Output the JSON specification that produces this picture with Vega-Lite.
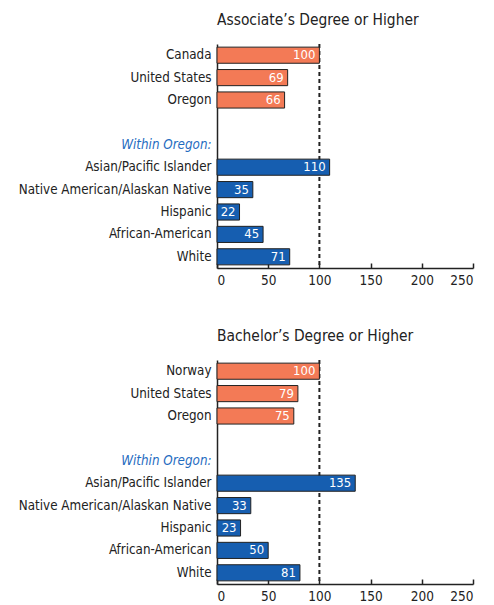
{
  "$schema": "https://vega.github.io/schema/vega-lite/v6.json",
  "padding": {"left": 5, "top": 12, "right": 5, "bottom": 5},
  "background": "white",
  "config": {
    "font": "'DejaVu Sans Condensed', 'Liberation Sans', sans-serif",
    "view": {"stroke": null},
    "axis": {"grid": false, "labelColor": "#222", "domainColor": "#222", "tickColor": "#222", "labelLimit": 400}
  },
  "datasets": {
    "assoc": [
      {"cat": "Canada", "value": 100, "group": "ref"},
      {"cat": "United States", "value": 69, "group": "ref"},
      {"cat": "Oregon", "value": 66, "group": "ref"},
      {"cat": "Asian/Pacific Islander", "value": 110, "group": "or"},
      {"cat": "Native American/Alaskan Native", "value": 35, "group": "or"},
      {"cat": "Hispanic", "value": 22, "group": "or"},
      {"cat": "African-American", "value": 45, "group": "or"},
      {"cat": "White", "value": 71, "group": "or"}
    ],
    "bach": [
      {"cat": "Norway", "value": 100, "group": "ref"},
      {"cat": "United States", "value": 79, "group": "ref"},
      {"cat": "Oregon", "value": 75, "group": "ref"},
      {"cat": "Asian/Pacific Islander", "value": 135, "group": "or"},
      {"cat": "Native American/Alaskan Native", "value": 33, "group": "or"},
      {"cat": "Hispanic", "value": 23, "group": "or"},
      {"cat": "African-American", "value": 50, "group": "or"},
      {"cat": "White", "value": 81, "group": "or"}
    ],
    "ref": [{"ref": 100}]
  },
  "spacing": 41,
  "vconcat": [
    {
      "title": {"text": "Associate’s Degree or Higher", "anchor": "start", "frame": "group", "fontSize": 15.4, "fontWeight": "normal", "color": "#222", "offset": 15},
      "width": 256,
      "height": 224,
      "layer": [
        {
          "data": {"name": "ref"},
          "mark": {"type": "rule", "strokeDash": [4, 3], "strokeWidth": 2, "color": "#222"},
          "encoding": {"x": {"field": "ref", "type": "quantitative"}}
        },
        {
          "data": {"name": "assoc"},
          "mark": {"type": "bar", "stroke": "#222", "strokeWidth": 1},
          "encoding": {
            "y": {"field": "cat", "type": "nominal", "title": null,
              "scale": {"domain": ["Canada", "United States", "Oregon", " ", "Within Oregon:", "Asian/Pacific Islander", "Native American/Alaskan Native", "Hispanic", "African-American", "White"], "paddingInner": 0.28, "paddingOuter": 0.14},
              "axis": {"ticks": false, "labelFontSize": 13.3, "labelPadding": 6, "minExtent": 212, "maxExtent": 212, "domainWidth": 1.5,
                "labelColor": {"condition": {"test": "datum.value === 'Within Oregon:'", "value": "#1f6cbf"}, "value": "#222"},
                "labelFontStyle": {"condition": {"test": "datum.value === 'Within Oregon:'", "value": "italic"}, "value": "normal"}}},
            "x": {"field": "value", "type": "quantitative", "title": null,
              "scale": {"domain": [0, 250], "nice": false},
              "axis": {"values": [0, 50, 100, 150, 200, 250], "tickSize": -5, "tickWidth": 1.5, "domainWidth": 1.5, "labelPadding": 10, "labelFontSize": 13.5}},
            "color": {"field": "group", "type": "nominal", "legend": null, "scale": {"domain": ["ref", "or"], "range": ["#F37A56", "#165EB0"]}}
          }
        },
        {
          "data": {"name": "assoc"},
          "mark": {"type": "text", "align": "right", "baseline": "middle", "dx": -4, "color": "white", "fontSize": 13},
          "encoding": {
            "y": {"field": "cat", "type": "nominal"},
            "x": {"field": "value", "type": "quantitative"},
            "text": {"field": "value", "type": "quantitative"}
          }
        }
      ]
    },
    {
      "title": {"text": "Bachelor’s Degree or Higher", "anchor": "start", "frame": "group", "fontSize": 15.4, "fontWeight": "normal", "color": "#222", "offset": 15},
      "width": 256,
      "height": 224,
      "layer": [
        {
          "data": {"name": "ref"},
          "mark": {"type": "rule", "strokeDash": [4, 3], "strokeWidth": 2, "color": "#222"},
          "encoding": {"x": {"field": "ref", "type": "quantitative"}}
        },
        {
          "data": {"name": "bach"},
          "mark": {"type": "bar", "stroke": "#222", "strokeWidth": 1},
          "encoding": {
            "y": {"field": "cat", "type": "nominal", "title": null,
              "scale": {"domain": ["Norway", "United States", "Oregon", " ", "Within Oregon:", "Asian/Pacific Islander", "Native American/Alaskan Native", "Hispanic", "African-American", "White"], "paddingInner": 0.28, "paddingOuter": 0.14},
              "axis": {"ticks": false, "labelFontSize": 13.3, "labelPadding": 6, "minExtent": 212, "maxExtent": 212, "domainWidth": 1.5,
                "labelColor": {"condition": {"test": "datum.value === 'Within Oregon:'", "value": "#1f6cbf"}, "value": "#222"},
                "labelFontStyle": {"condition": {"test": "datum.value === 'Within Oregon:'", "value": "italic"}, "value": "normal"}}},
            "x": {"field": "value", "type": "quantitative", "title": null,
              "scale": {"domain": [0, 250], "nice": false},
              "axis": {"values": [0, 50, 100, 150, 200, 250], "tickSize": -5, "tickWidth": 1.5, "domainWidth": 1.5, "labelPadding": 10, "labelFontSize": 13.5}},
            "color": {"field": "group", "type": "nominal", "legend": null, "scale": {"domain": ["ref", "or"], "range": ["#F37A56", "#165EB0"]}}
          }
        },
        {
          "data": {"name": "bach"},
          "mark": {"type": "text", "align": "right", "baseline": "middle", "dx": -4, "color": "white", "fontSize": 13},
          "encoding": {
            "y": {"field": "cat", "type": "nominal"},
            "x": {"field": "value", "type": "quantitative"},
            "text": {"field": "value", "type": "quantitative"}
          }
        }
      ]
    }
  ]
}
